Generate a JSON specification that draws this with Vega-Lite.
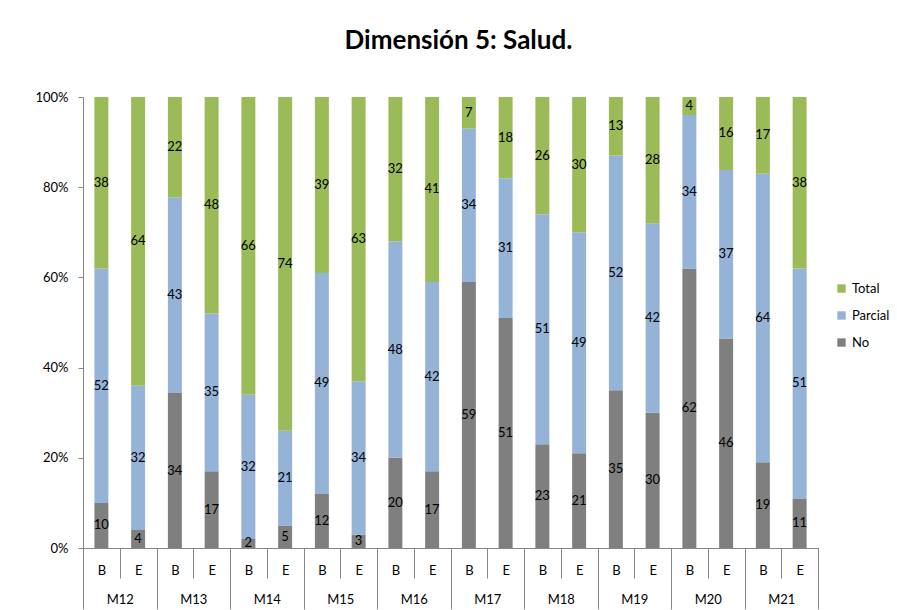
{
  "$schema": "https://vega.github.io/schema/vega-lite/v6.json",
  "width": 735,
  "height": 451,
  "autosize": {"type": "none"},
  "padding": {"left": 83, "top": 97, "right": 79, "bottom": 62},
  "background": "white",
  "config": {"view": {"stroke": null}, "font": "Lato"},
  "title": {"text": "Dimensión 5: Salud.", "font": "Lato", "fontSize": 26, "fontWeight": "bold", "color": "black", "anchor": "middle", "baseline": "alphabetic", "offset": 16, "dx": 8},
  "data": {"values": [
    {"M": "M12", "P": "B", "id": "M12-B", "R": "No", "v": 10}, {"M": "M12", "P": "B", "id": "M12-B", "R": "Parcial", "v": 52}, {"M": "M12", "P": "B", "id": "M12-B", "R": "Total", "v": 38},
    {"M": "M12", "P": "E", "id": "M12-E", "R": "No", "v": 4}, {"M": "M12", "P": "E", "id": "M12-E", "R": "Parcial", "v": 32}, {"M": "M12", "P": "E", "id": "M12-E", "R": "Total", "v": 64},
    {"M": "M13", "P": "B", "id": "M13-B", "R": "No", "v": 34}, {"M": "M13", "P": "B", "id": "M13-B", "R": "Parcial", "v": 43}, {"M": "M13", "P": "B", "id": "M13-B", "R": "Total", "v": 22},
    {"M": "M13", "P": "E", "id": "M13-E", "R": "No", "v": 17}, {"M": "M13", "P": "E", "id": "M13-E", "R": "Parcial", "v": 35}, {"M": "M13", "P": "E", "id": "M13-E", "R": "Total", "v": 48},
    {"M": "M14", "P": "B", "id": "M14-B", "R": "No", "v": 2}, {"M": "M14", "P": "B", "id": "M14-B", "R": "Parcial", "v": 32}, {"M": "M14", "P": "B", "id": "M14-B", "R": "Total", "v": 66},
    {"M": "M14", "P": "E", "id": "M14-E", "R": "No", "v": 5}, {"M": "M14", "P": "E", "id": "M14-E", "R": "Parcial", "v": 21}, {"M": "M14", "P": "E", "id": "M14-E", "R": "Total", "v": 74},
    {"M": "M15", "P": "B", "id": "M15-B", "R": "No", "v": 12}, {"M": "M15", "P": "B", "id": "M15-B", "R": "Parcial", "v": 49}, {"M": "M15", "P": "B", "id": "M15-B", "R": "Total", "v": 39},
    {"M": "M15", "P": "E", "id": "M15-E", "R": "No", "v": 3}, {"M": "M15", "P": "E", "id": "M15-E", "R": "Parcial", "v": 34}, {"M": "M15", "P": "E", "id": "M15-E", "R": "Total", "v": 63},
    {"M": "M16", "P": "B", "id": "M16-B", "R": "No", "v": 20}, {"M": "M16", "P": "B", "id": "M16-B", "R": "Parcial", "v": 48}, {"M": "M16", "P": "B", "id": "M16-B", "R": "Total", "v": 32},
    {"M": "M16", "P": "E", "id": "M16-E", "R": "No", "v": 17}, {"M": "M16", "P": "E", "id": "M16-E", "R": "Parcial", "v": 42}, {"M": "M16", "P": "E", "id": "M16-E", "R": "Total", "v": 41},
    {"M": "M17", "P": "B", "id": "M17-B", "R": "No", "v": 59}, {"M": "M17", "P": "B", "id": "M17-B", "R": "Parcial", "v": 34}, {"M": "M17", "P": "B", "id": "M17-B", "R": "Total", "v": 7},
    {"M": "M17", "P": "E", "id": "M17-E", "R": "No", "v": 51}, {"M": "M17", "P": "E", "id": "M17-E", "R": "Parcial", "v": 31}, {"M": "M17", "P": "E", "id": "M17-E", "R": "Total", "v": 18},
    {"M": "M18", "P": "B", "id": "M18-B", "R": "No", "v": 23}, {"M": "M18", "P": "B", "id": "M18-B", "R": "Parcial", "v": 51}, {"M": "M18", "P": "B", "id": "M18-B", "R": "Total", "v": 26},
    {"M": "M18", "P": "E", "id": "M18-E", "R": "No", "v": 21}, {"M": "M18", "P": "E", "id": "M18-E", "R": "Parcial", "v": 49}, {"M": "M18", "P": "E", "id": "M18-E", "R": "Total", "v": 30},
    {"M": "M19", "P": "B", "id": "M19-B", "R": "No", "v": 35}, {"M": "M19", "P": "B", "id": "M19-B", "R": "Parcial", "v": 52}, {"M": "M19", "P": "B", "id": "M19-B", "R": "Total", "v": 13},
    {"M": "M19", "P": "E", "id": "M19-E", "R": "No", "v": 30}, {"M": "M19", "P": "E", "id": "M19-E", "R": "Parcial", "v": 42}, {"M": "M19", "P": "E", "id": "M19-E", "R": "Total", "v": 28},
    {"M": "M20", "P": "B", "id": "M20-B", "R": "No", "v": 62}, {"M": "M20", "P": "B", "id": "M20-B", "R": "Parcial", "v": 34}, {"M": "M20", "P": "B", "id": "M20-B", "R": "Total", "v": 4},
    {"M": "M20", "P": "E", "id": "M20-E", "R": "No", "v": 46}, {"M": "M20", "P": "E", "id": "M20-E", "R": "Parcial", "v": 37}, {"M": "M20", "P": "E", "id": "M20-E", "R": "Total", "v": 16},
    {"M": "M21", "P": "B", "id": "M21-B", "R": "No", "v": 19}, {"M": "M21", "P": "B", "id": "M21-B", "R": "Parcial", "v": 64}, {"M": "M21", "P": "B", "id": "M21-B", "R": "Total", "v": 17},
    {"M": "M21", "P": "E", "id": "M21-E", "R": "No", "v": 11}, {"M": "M21", "P": "E", "id": "M21-E", "R": "Parcial", "v": 51}, {"M": "M21", "P": "E", "id": "M21-E", "R": "Total", "v": 38}
  ]},
  "transform": [
    {"stack": "v", "groupby": ["id"], "sort": [{"field": "R", "order": "ascending"}], "offset": "normalize", "as": ["y0", "y1"]},
    {"calculate": "(datum.y0 + datum.y1) / 2", "as": "mid"}
  ],
  "layer": [
    {
      "mark": {"type": "bar", "width": {"band": 0.38}},
      "encoding": {
        "x": {"field": "id", "type": "nominal", "sort": null, "scale": {"paddingInner": 0, "paddingOuter": 0},
          "axis": {"title": null, "orient": "bottom", "labelExpr": "substring(datum.label, 4)", "labelAngle": 0, "tickBand": "extent", "tickSize": 30, "labelPadding": -8, "labelBaseline": "middle", "domainColor": "#868686", "tickColor": "#868686", "labelFont": "Lato", "labelFontSize": 13, "labelColor": "black"}},
        "y": {"field": "y0", "type": "quantitative", "scale": {"domain": [0, 1]},
          "axis": {"title": null, "values": [0, 0.2, 0.4, 0.6, 0.8, 1], "format": "%", "grid": false, "tickSize": 5, "labelPadding": 10, "domainColor": "#868686", "tickColor": "#868686", "labelFont": "Lato", "labelFontSize": 13, "labelColor": "black"}},
        "y2": {"field": "y1"},
        "color": {"field": "R", "type": "nominal", "scale": {"domain": ["Total", "Parcial", "No"], "range": ["#9BBB59", "#95B3D7", "#7F7F7F"]},
          "legend": {"title": null, "orient": "none", "legendX": 752, "legendY": 185, "symbolType": "square", "symbolSize": 70, "symbolStrokeWidth": 0, "labelFont": "Lato", "labelFontSize": 13, "labelColor": "black", "rowPadding": 13}}
      }
    },
    {
      "mark": {"type": "text", "font": "Lato", "fontSize": 13, "color": "black", "baseline": "middle", "align": "center"},
      "encoding": {
        "x": {"field": "id", "type": "nominal", "sort": null, "scale": {"paddingInner": 0, "paddingOuter": 0}, "axis": null},
        "y": {"field": "mid", "type": "quantitative", "scale": {"domain": [0, 1]}},
        "text": {"field": "v", "type": "quantitative"}
      }
    },
    {
      "mark": {"type": "rule", "strokeOpacity": 0},
      "encoding": {
        "x": {"field": "M", "type": "nominal", "sort": null, "scale": {"paddingInner": 0, "paddingOuter": 0},
          "axis": {"title": null, "orient": "bottom", "labelAngle": 0, "tickBand": "extent", "tickSize": 61, "labelPadding": -10, "labelBaseline": "middle", "domain": false, "tickColor": "#868686", "labelFont": "Lato", "labelFontSize": 13, "labelColor": "black"}}
      }
    }
  ],
  "resolve": {"scale": {"x": "independent"}, "axis": {"x": "independent"}}
}
